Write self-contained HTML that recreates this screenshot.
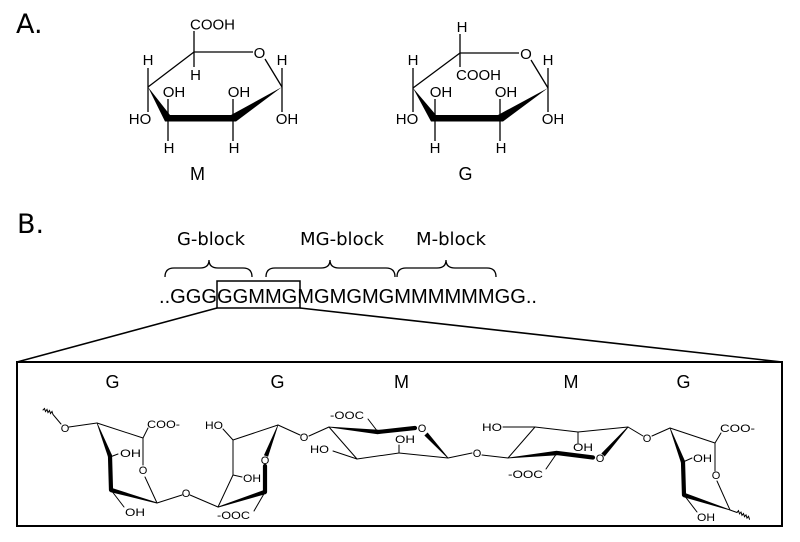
<!DOCTYPE html>
<html>
<head>
<meta charset="utf-8">
<style>
  html, body { margin:0; padding:0; background:#fff; }
  body { width:800px; height:542px; overflow:hidden; }
  svg { display:block; }
  .t { font-family: "Liberation Sans", Arial, sans-serif; fill:#000; }
  .d { font-family: "DejaVu Sans", "Liberation Sans", sans-serif; fill:#000; }
</style>
</head>
<body>
<svg width="800" height="542" viewBox="0 0 800 542" xmlns="http://www.w3.org/2000/svg">
  <rect x="0" y="0" width="800" height="542" fill="#fff"/>

  <!-- ===== A ===== -->
  <text class="d" x="16" y="33" font-size="27">A.</text>

  <!-- M structure -->
  <g stroke="#000" stroke-width="1.3" fill="none">
    <line x1="194" y1="31" x2="194" y2="52"/>
    <line x1="194" y1="52" x2="194" y2="67"/>
    <line x1="194" y1="52" x2="253" y2="52"/>
    <line x1="265" y1="59" x2="282" y2="87"/>
    <line x1="282" y1="87" x2="282" y2="68"/>
    <line x1="282" y1="87" x2="282" y2="112"/>
    <line x1="233" y1="118" x2="233" y2="99"/>
    <line x1="233" y1="118" x2="233" y2="141"/>
    <line x1="168" y1="118" x2="168" y2="99"/>
    <line x1="168" y1="118" x2="168" y2="141"/>
    <line x1="148" y1="87" x2="148" y2="68"/>
    <line x1="148" y1="87" x2="148" y2="112"/>
    <line x1="148" y1="87" x2="194" y2="52"/>
  </g>
  <polygon points="148,87 170,115 231,115 282,87 236,121.5 165,121.5" fill="#000"/>
  <g class="t" font-size="15" text-anchor="middle">
    <text x="212.5" y="29.5">COOH</text>
    <text x="195.5" y="80">H</text>
    <text x="259.5" y="58">O</text>
    <text x="282" y="65">H</text>
    <text x="287" y="124">OH</text>
    <text x="239" y="97">OH</text>
    <text x="234" y="153">H</text>
    <text x="174" y="97">OH</text>
    <text x="169" y="153">H</text>
    <text x="148" y="65">H</text>
    <text x="140" y="124">HO</text>
  </g>
  <text class="t" x="197.5" y="180" font-size="18" text-anchor="middle">M</text>

  <!-- G structure -->
  <g stroke="#000" stroke-width="1.3" fill="none">
    <line x1="460" y1="34" x2="460" y2="53"/>
    <line x1="460" y1="53" x2="460" y2="67"/>
    <line x1="460" y1="53" x2="519" y2="53"/>
    <line x1="531" y1="60" x2="548" y2="88"/>
    <line x1="548" y1="88" x2="548" y2="68"/>
    <line x1="548" y1="88" x2="548" y2="112"/>
    <line x1="500" y1="118" x2="500" y2="99"/>
    <line x1="500" y1="118" x2="500" y2="141"/>
    <line x1="435" y1="118" x2="435" y2="99"/>
    <line x1="435" y1="118" x2="435" y2="141"/>
    <line x1="413" y1="88" x2="413" y2="68"/>
    <line x1="413" y1="88" x2="413" y2="112"/>
    <line x1="413" y1="88" x2="460" y2="53"/>
  </g>
  <polygon points="413,88 436,115 498,115 548,88 503,121.5 431,121.5" fill="#000"/>
  <g class="t" font-size="15" text-anchor="middle">
    <text x="462" y="32">H</text>
    <text x="478.5" y="80">COOH</text>
    <text x="526" y="59">O</text>
    <text x="548" y="65">H</text>
    <text x="553" y="124">OH</text>
    <text x="506" y="97">OH</text>
    <text x="501" y="153">H</text>
    <text x="441" y="97">OH</text>
    <text x="435" y="153">H</text>
    <text x="413" y="65">H</text>
    <text x="407" y="124">HO</text>
  </g>
  <text class="t" x="465.5" y="180" font-size="18" text-anchor="middle">G</text>

  <!-- ===== B ===== -->
  <text class="d" x="17" y="233" font-size="27">B.</text>

  <text class="d" x="177" y="245" font-size="18" textLength="68" lengthAdjust="spacingAndGlyphs">G-block</text>
  <text class="d" x="300" y="245" font-size="18" textLength="84" lengthAdjust="spacingAndGlyphs">MG-block</text>
  <text class="d" x="416" y="245" font-size="18" textLength="70" lengthAdjust="spacingAndGlyphs">M-block</text>

  <g stroke="#000" stroke-width="1.3" fill="none">
    <path d="M165,277 Q165,268 174,268 L200,268 Q209,268 209,260 Q209,268 218,268 L243,268 Q252,268 252,277"/>
    <path d="M266,277 Q266,268 275,268 L321,268 Q330,268 330,260 Q330,268 339,268 L386,268 Q395,268 395,277"/>
    <path d="M397,277 Q397,268 406,268 L437,268 Q446,268 446,260 Q446,268 455,268 L487,268 Q496,268 496,277"/>
  </g>

  <text class="t" x="159" y="303" font-size="20" textLength="378" lengthAdjust="spacingAndGlyphs">..GGGGGMMGMGMGMGMMMMMMGG..</text>

  <rect x="217" y="281" width="83" height="27" fill="none" stroke="#000" stroke-width="1.5"/>
  <line x1="217" y1="308" x2="17" y2="362" stroke="#000" stroke-width="1.6"/>
  <line x1="300" y1="308" x2="782" y2="362" stroke="#000" stroke-width="1.6"/>
  <rect x="17" y="362" width="765" height="164" fill="none" stroke="#000" stroke-width="2"/>

  <g class="t" font-size="18" text-anchor="middle">
    <text x="112.5" y="388">G</text>
    <text x="277.5" y="388">G</text>
    <text x="401.5" y="388">M</text>
    <text x="571" y="388">M</text>
    <text x="683.5" y="388">G</text>
  </g>

  <!-- ===== chain ===== -->
  <g stroke="#000" stroke-width="1" fill="none" stroke-linecap="round">
    <!-- residue 1 -->
    <path d="M43,410 l1.5,-1.5 l1,3 l1.5,-2 l1,3 l1.5,-2 l1,3 l1.5,-2 l1,3 L61,424"/>
    <line x1="69" y1="427" x2="97" y2="423"/>
    <line x1="97" y1="423" x2="143" y2="438"/>
    <line x1="143" y1="438" x2="148" y2="428"/>
    <line x1="143" y1="438" x2="143" y2="465"/>
    <line x1="145" y1="477" x2="157" y2="503"/>
    <line x1="157" y1="503" x2="182" y2="495"/>
    <line x1="110" y1="457" x2="118" y2="454"/>
    <line x1="111" y1="490" x2="124" y2="507"/>
    <!-- residue 2 -->
    <line x1="190" y1="495" x2="218" y2="507"/>
    <line x1="218" y1="507" x2="233" y2="475"/>
    <line x1="233" y1="475" x2="242" y2="477"/>
    <line x1="233" y1="475" x2="233" y2="440"/>
    <line x1="233" y1="440" x2="223" y2="429"/>
    <line x1="233" y1="440" x2="278" y2="425"/>
    <line x1="265" y1="492" x2="254" y2="511"/>
    <line x1="278" y1="425" x2="300" y2="435"/>
    <!-- residue 3 -->
    <line x1="309" y1="436" x2="329" y2="427"/>
    <line x1="378" y1="432" x2="368" y2="419"/>
    <line x1="448" y1="458" x2="472" y2="453"/>
    <line x1="448" y1="458" x2="399" y2="453"/>
    <line x1="399" y1="453" x2="399" y2="445"/>
    <line x1="399" y1="453" x2="357" y2="459"/>
    <line x1="357" y1="459" x2="333" y2="451"/>
    <line x1="357" y1="459" x2="329" y2="427"/>
    <!-- residue 4 -->
    <line x1="482" y1="455" x2="508" y2="458"/>
    <line x1="628" y1="427" x2="578" y2="432"/>
    <line x1="578" y1="432" x2="578" y2="443"/>
    <line x1="578" y1="432" x2="535" y2="427"/>
    <line x1="535" y1="427" x2="503" y2="427"/>
    <line x1="535" y1="427" x2="508" y2="458"/>
    <line x1="557" y1="453" x2="546" y2="469"/>
    <line x1="628" y1="427" x2="643" y2="436"/>
    <!-- residue 5 -->
    <line x1="652" y1="436" x2="670" y2="428"/>
    <line x1="670" y1="428" x2="715" y2="443"/>
    <line x1="715" y1="443" x2="721" y2="433"/>
    <line x1="715" y1="443" x2="715" y2="471"/>
    <line x1="717" y1="481" x2="730" y2="510"/>
    <path d="M730,510 L737,512.5 l1.5,-1.8 l1,3.2 l1.5,-1.8 l1,3.2 l1.5,-1.8 l1,3.2 l1.5,-1.8 l1,3.2 l1.5,-1.8 l1,3"/>
    <line x1="683" y1="462" x2="692" y2="458"/>
    <line x1="684" y1="495" x2="697" y2="512"/>
  </g>

  <!-- bold bonds -->
  <g fill="#000" stroke="none">
    <!-- residue 1 -->
    <polygon points="96.7,423.1 97.3,422.9 112.05,455.2 107.95,456.8"/>
    <line x1="110" y1="456" x2="111" y2="490" stroke="#000" stroke-width="4.2" stroke-linecap="round"/>
    <polygon points="157.14,502.52 156.86,503.48 110.4,492.1 111.6,487.9"/>
    <!-- residue 2 -->
    <polygon points="277.7,425 278.3,425 268.05,456.8 263.95,455.2"/>
    <line x1="265" y1="466" x2="265" y2="492" stroke="#000" stroke-width="4.2" stroke-linecap="round"/>
    <polygon points="264.33,489.9 265.67,494.1 218,507.6 218,506.6"/>
    <!-- residue 3 -->
    <polygon points="329,426.6 329,427.4 377.78,434.19 378.22,429.81"/>
    <line x1="378" y1="432" x2="415" y2="428" stroke="#000" stroke-width="4.2" stroke-linecap="round"/>
    <polygon points="424.38,435.49 427.62,432.51 448.3,457.7 447.7,458.3"/>
    <!-- residue 4 -->
    <polygon points="508,457.6 508,458.4 557.22,455.19 556.78,450.81"/>
    <line x1="557" y1="453" x2="593" y2="457.5" stroke="#000" stroke-width="4.2" stroke-linecap="round"/>
    <polygon points="601.35,453.54 604.65,456.46 628.4,427.3 627.6,426.7"/>
    <!-- residue 5 -->
    <polygon points="669.7,428.1 670.3,427.9 685.05,461.21 680.95,462.79"/>
    <line x1="683" y1="462" x2="684" y2="495" stroke="#000" stroke-width="4.2" stroke-linecap="round"/>
    <polygon points="683.32,497.09 684.68,492.91 730.1,509.6 729.9,510.4"/>
  </g>

  <!-- chain labels -->
  <g class="t" font-size="11">
    <text x="65" y="432" text-anchor="middle">O</text>
    <text x="147" y="428" textLength="33" lengthAdjust="spacingAndGlyphs">COO-</text>
    <text x="143" y="474" text-anchor="middle">O</text>
    <text x="120" y="457" textLength="21" lengthAdjust="spacingAndGlyphs">OH</text>
    <text x="125" y="516" textLength="20" lengthAdjust="spacingAndGlyphs">OH</text>
    <text x="186" y="497" text-anchor="middle">O</text>

    <text x="243" y="482" textLength="18" lengthAdjust="spacingAndGlyphs">OH</text>
    <text x="205" y="429" textLength="18" lengthAdjust="spacingAndGlyphs">HO</text>
    <text x="265" y="464" text-anchor="middle">O</text>
    <text x="217" y="519" textLength="33" lengthAdjust="spacingAndGlyphs">-OOC</text>
    <text x="304" y="441" text-anchor="middle">O</text>

    <text x="422" y="432" text-anchor="middle">O</text>
    <text x="330" y="419" textLength="34" lengthAdjust="spacingAndGlyphs">-OOC</text>
    <text x="395" y="443" textLength="20" lengthAdjust="spacingAndGlyphs">OH</text>
    <text x="310" y="453" textLength="19" lengthAdjust="spacingAndGlyphs">HO</text>
    <text x="477" y="457" text-anchor="middle">O</text>

    <text x="600" y="462" text-anchor="middle">O</text>
    <text x="573" y="451" textLength="20" lengthAdjust="spacingAndGlyphs">OH</text>
    <text x="482" y="431" textLength="20" lengthAdjust="spacingAndGlyphs">HO</text>
    <text x="508" y="478" textLength="35" lengthAdjust="spacingAndGlyphs">-OOC</text>
    <text x="647" y="442" text-anchor="middle">O</text>

    <text x="720" y="432" textLength="35" lengthAdjust="spacingAndGlyphs">COO-</text>
    <text x="716" y="479" text-anchor="middle">O</text>
    <text x="693" y="462" textLength="19" lengthAdjust="spacingAndGlyphs">OH</text>
    <text x="697" y="521" textLength="18" lengthAdjust="spacingAndGlyphs">OH</text>
  </g>
</svg>
</body>
</html>
